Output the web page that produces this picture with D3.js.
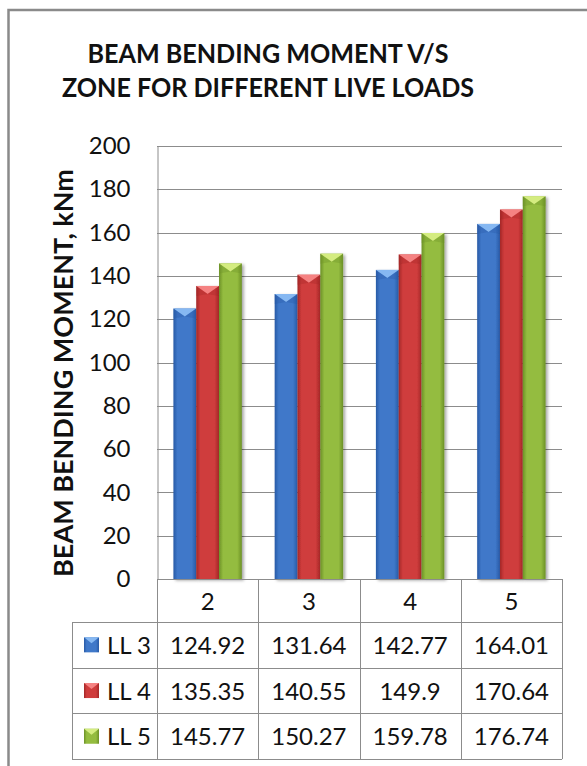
<!DOCTYPE html>
<html>
<head>
<meta charset="utf-8">
<script src="https://cdn.jsdelivr.net/npm/d3@7"></script>
<style>
  html, body { margin: 0; padding: 0; background: #fff; }
  svg { display: block; }
  text { font-family: Lato, "Open Sans", sans-serif; fill: #111; }
</style>
</head>
<body>
<svg id="chart" width="587" height="766"></svg>
<script>
// Zones on the x axis
const categories = ["2", "3", "4", "5"];
// Live load cases
const seriesNames = ["LL 3", "LL 4", "LL 5"];
// Beam bending moment (kNm) per zone for each live load
const ll3 = [124.92, 131.64, 142.77, 164.01];
const ll4 = [135.35, 140.55, 149.9, 170.64];
const ll5 = [145.77, 150.27, 159.78, 176.74];
const yTicks = [0, 20, 40, 60, 80, 100, 120, 140, 160, 180, 200];
const titleLines = ["BEAM BENDING MOMENT V/S", "ZONE FOR DIFFERENT LIVE LOADS"];
const yTitle = "BEAM BENDING MOMENT, kNm";

const seriesValues = [ll3, ll4, ll5];
const palette = [
  { base: "#3f78c9", edge: "#285aa6", top: "#86b8f2" },
  { base: "#cf3c3c", edge: "#a32727", top: "#f58282" },
  { base: "#94bc3f", edge: "#6c9127", top: "#d4ec80" }
];

const svg = d3.select("#chart");
const plot = { left: 157, right: 562, top: 146, bottom: 579 };
const table = { left: 72, catRow: 622, rowH: 45.7 };

const y = d3.scaleLinear().domain([0, 200]).range([plot.bottom, plot.top]);
const x0 = d3.scaleBand().domain(categories).range([plot.left, plot.right]).padding(0);
const x1 = d3.scaleBand().domain(seriesNames).range([0, x0.bandwidth()])
  .paddingInner(0).paddingOuter(0.72);

const defs = svg.append("defs");
palette.forEach((p, i) => {
  const g = defs.append("linearGradient").attr("id", "body" + i)
    .attr("x1", "0").attr("x2", "1").attr("y1", "0").attr("y2", "0");
  g.append("stop").attr("offset", "0").attr("stop-color", p.edge);
  g.append("stop").attr("offset", "0.18").attr("stop-color", p.base);
  g.append("stop").attr("offset", "0.8").attr("stop-color", p.base);
  g.append("stop").attr("offset", "1").attr("stop-color", p.edge);
});
const shadow = defs.append("filter").attr("id", "shadow")
  .attr("x", "-20%").attr("y", "-5%").attr("width", "150%").attr("height", "115%");
shadow.append("feDropShadow").attr("dx", 2).attr("dy", 1.5)
  .attr("stdDeviation", 1.5).attr("flood-color", "#000").attr("flood-opacity", 0.35);

// Outer chart frame (left and top edges are visible)
svg.append("path")
  .attr("d", "M8.5,770V10H590")
  .attr("fill", "none").attr("stroke", "#8a8a8a").attr("stroke-width", 2.5);

// Title, slightly condensed
svg.append("g").selectAll("text").data(titleLines).join("text")
  .attr("transform", (d, i) => `translate(268,${63 + i * 34}) scale(0.93,1)`)
  .attr("text-anchor", "middle")
  .attr("font-weight", "bold").attr("font-size", 27)
  .text(d => d);

// Gridlines
svg.append("g").selectAll("line").data(yTicks).join("line")
  .attr("x1", plot.left).attr("x2", plot.right)
  .attr("y1", d => Math.round(y(d)) + 0.5).attr("y2", d => Math.round(y(d)) + 0.5)
  .attr("stroke", "#8c8c8c").attr("stroke-width", 1);

// Y axis
const yAxis = svg.append("g")
  .attr("transform", `translate(${plot.left + 0.5},0)`)
  .call(d3.axisLeft(y).tickValues(yTicks).tickSize(0).tickPadding(27));
yAxis.select(".domain").attr("stroke", "#8c8c8c");
yAxis.selectAll("text").attr("font-size", 24).attr("fill", "#111")
  .attr("font-family", "Lato, 'Open Sans', sans-serif");

// Y axis title
svg.append("text")
  .attr("transform", "translate(73,373) rotate(-90)")
  .attr("text-anchor", "middle")
  .attr("font-weight", "bold").attr("font-size", 27)
  .text(yTitle);

// Bars with bevelled tops
const groups = svg.append("g").selectAll("g").data(categories).join("g")
  .attr("transform", d => `translate(${x0(d)},0)`);

groups.each(function (cat, ci) {
  const g = d3.select(this);
  seriesNames.forEach((s, si) => {
    const v = seriesValues[si][ci];
    const bx = x1(s), bw = x1.bandwidth();
    const by = y(v), bh = y(0) - y(v);
    const bar = g.append("g").attr("filter", "url(#shadow)");
    bar.append("rect")
      .attr("x", bx).attr("y", by).attr("width", bw).attr("height", bh)
      .attr("fill", `url(#body${si})`);
    const bev = Math.min(8, bh);
    bar.append("path")
      .attr("d", `M${bx},${by}L${bx + bw},${by}L${bx + bw / 2},${by + bev}Z`)
      .attr("fill", palette[si].top);
    bar.append("path")
      .attr("d", `M${bx},${by}L${bx + bw / 2},${by + bev}L${bx},${by + bev + 2}Z`)
      .attr("fill", palette[si].edge).attr("opacity", 0.35);
    bar.append("path")
      .attr("d", `M${bx + bw},${by}L${bx + bw / 2},${by + bev}L${bx + bw},${by + bev + 2}Z`)
      .attr("fill", palette[si].edge).attr("opacity", 0.35);
  });
});

// Data table
const tbl = svg.append("g");
const lineColor = "#8c8c8c";
const rowsBottom = table.catRow + seriesNames.length * table.rowH;

// x axis / top of category row
tbl.append("line").attr("x1", plot.left).attr("x2", plot.right)
  .attr("y1", plot.bottom + 0.5).attr("y2", plot.bottom + 0.5)
  .attr("stroke", lineColor);
// horizontal rules for data rows
d3.range(seriesNames.length + 1).forEach(i => {
  const yy = Math.round(table.catRow + i * table.rowH) + 0.5;
  tbl.append("line").attr("x1", table.left).attr("x2", plot.right)
    .attr("y1", yy).attr("y2", yy).attr("stroke", lineColor);
});
// vertical rules
tbl.append("line").attr("x1", table.left + 0.5).attr("x2", table.left + 0.5)
  .attr("y1", table.catRow).attr("y2", rowsBottom).attr("stroke", lineColor);
categories.concat(["end"]).forEach((c, i) => {
  const xx = Math.round(plot.left + i * x0.bandwidth()) + 0.5;
  tbl.append("line").attr("x1", xx).attr("x2", xx)
    .attr("y1", plot.bottom).attr("y2", rowsBottom).attr("stroke", lineColor);
});

// category labels
tbl.selectAll("text.cat").data(categories).join("text").attr("class", "cat")
  .attr("x", d => x0(d) + x0.bandwidth() / 2)
  .attr("y", (plot.bottom + table.catRow) / 2 + 9)
  .attr("text-anchor", "middle").attr("font-size", 24)
  .text(d => d);

// value rows
seriesNames.forEach((s, si) => {
  const cy = table.catRow + (si + 0.5) * table.rowH;
  tbl.selectAll(`text.v${si}`).data(seriesValues[si]).join("text").attr("class", `v${si}`)
    .attr("x", (d, i) => x0(categories[i]) + x0.bandwidth() / 2)
    .attr("y", cy + 9)
    .attr("text-anchor", "middle").attr("font-size", 24)
    .text(d => String(d));
  // legend key
  const kx = 84, ky = cy - 7.5, ks = 15;
  const key = tbl.append("g");
  key.append("rect").attr("x", kx).attr("y", ky).attr("width", ks).attr("height", ks)
    .attr("fill", `url(#body${si})`);
  key.append("path")
    .attr("d", `M${kx},${ky}L${kx + ks},${ky}L${kx + ks / 2},${ky + 6}Z`)
    .attr("fill", palette[si].top);
  tbl.append("text").attr("x", 107).attr("y", cy + 9)
    .attr("font-size", 24).text(s);
});
</script>
</body>
</html>
